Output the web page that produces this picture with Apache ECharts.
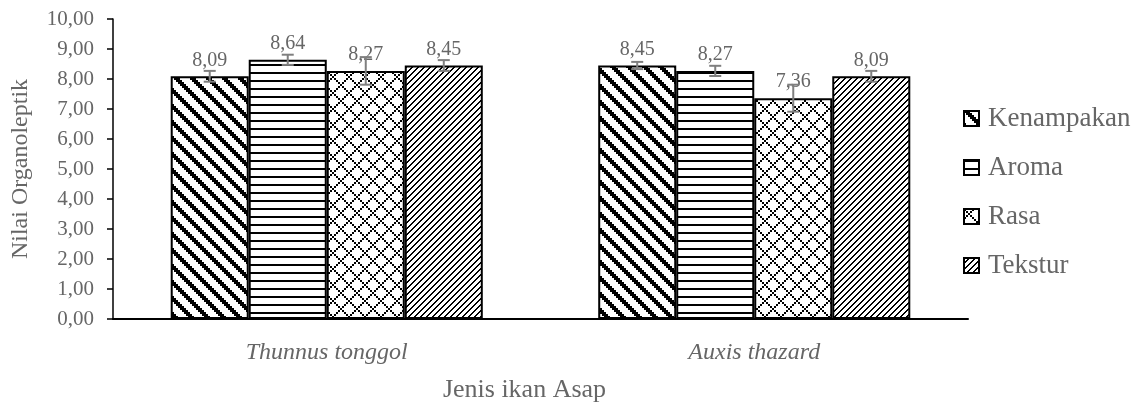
<!DOCTYPE html>
<html><head><meta charset="utf-8">
<script src="https://cdn.jsdelivr.net/npm/echarts@6/dist/echarts.min.js"></script>
<style>html,body{margin:0;padding:0;background:#fff}#c{width:1136px;height:404px}</style>
</head><body><div id="c"></div>
<script>
// ---- data ----
const categories = ['Thunnus tonggol', 'Auxis thazard'];
const seriesNames = ['Kenampakan', 'Aroma', 'Rasa', 'Tekstur'];
const kenampakan = [8.09, 8.45];
const aroma = [8.64, 8.27];
const rasa = [8.27, 7.36];
const tekstur = [8.45, 8.09];
const errKenampakan = [0.18, 0.12];
const errAroma = [0.17, 0.17];
const errRasa = [0.46, 0.45];
const errTekstur = [0.18, 0.18];
const xTitle = 'Jenis ikan Asap';
const yTitle = 'Nilai Organoleptik';

// ---- styles ----
const FONT = '"Liberation Serif", "DejaVu Serif", serif';
const TXT = '#666666';
function bitmapPattern(rows, scale) {
  const n = rows.length, m = rows[0].length;
  const cv = document.createElement('canvas');
  cv.width = m * scale; cv.height = n * scale;
  const ctx = cv.getContext('2d');
  ctx.fillStyle = '#fff'; ctx.fillRect(0, 0, cv.width, cv.height);
  ctx.fillStyle = '#000';
  for (let r = 0; r < n; r++) for (let c = 0; c < m; c++)
    if (rows[r][c] === '1') ctx.fillRect(c * scale, r * scale, scale, scale);
  return { image: cv, repeat: 'repeat' };
}
const patterns = [
  bitmapPattern(['11100000','01110000','00111000','00011100','00001110','00000111','10000011','11000001'], 2),
  bitmapPattern(['11111111','00000000','00000000','00000000','11111111','00000000','00000000','00000000'], 2),
  bitmapPattern(['10001000','01010000','00100000','01010000','10001000','00000101','00000010','00000101'], 2),
  bitmapPattern(['000011','000110','001100','011000','110000','100001'], 1)
];

const values = [kenampakan, aroma, rasa, tekstur];
const errors = [errKenampakan, errAroma, errRasa, errTekstur];
const GAP = 0.27;
const fmt = v => v.toFixed(2).replace('.', ',');

const barSeries = seriesNames.map((name, s) => ({
  name, type: 'bar', data: values[s],
  barGap: '0%', barCategoryGap: (GAP * 100) + '%',
  itemStyle: { color: patterns[s], borderColor: '#000', borderWidth: 2 },
  label: { show: true, position: 'top', distance: 6, formatter: p => fmt(p.value),
    color: TXT, fontFamily: FONT, fontSize: 20 },
  z: 2
}));

const errData = [];
values.forEach((vals, s) => vals.forEach((v, i) => errData.push([i, v, errors[s][i], s])));
const errSeries = {
  type: 'custom', silent: true, z: 10, data: errData, encode: { x: 0, y: 1 },
  renderItem(params, api) {
    const ci = api.value(0), v = api.value(1), e = api.value(2), s = api.value(3);
    const catW = api.size([1, 0])[0];
    const barW = catW * (1 - GAP) / seriesNames.length;
    const c = api.coord([ci, v]);
    const x = c[0] - barW * seriesNames.length / 2 + barW * (s + 0.5);
    const yHi = api.coord([ci, v + e])[1], yLo = api.coord([ci, v - e])[1];
    const cap = 6, st = { stroke: '#7f7f7f', lineWidth: 2 };
    return { type: 'group', children: [
      { type: 'line', shape: { x1: x, y1: yHi, x2: x, y2: yLo }, style: st },
      { type: 'line', shape: { x1: x - cap, y1: yHi, x2: x + cap, y2: yHi }, style: st },
      { type: 'line', shape: { x1: x - cap, y1: yLo, x2: x + cap, y2: yLo }, style: st }
    ]};
  }
};

const chart = echarts.init(document.getElementById('c'), null, { renderer: 'canvas' });
chart.setOption({
  animation: false,
  backgroundColor: '#fff',
  textStyle: { fontFamily: FONT },
  grid: { left: 113, right: 168, top: 19, bottom: 85, containLabel: false, outerBoundsMode: 'none' },
  legend: {
    data: seriesNames, orient: 'vertical', left: 958, top: 100,
    itemWidth: 15, itemHeight: 15, itemGap: 22, icon: 'rect',
    textStyle: { color: TXT, fontFamily: FONT, fontSize: 27, padding: [0, 0, 0, 4] }
  },
  xAxis: {
    type: 'category', data: categories,
    axisLine: { lineStyle: { color: '#000', width: 2 } },
    axisTick: { show: false },
    axisLabel: { color: TXT, fontFamily: FONT, fontSize: 24, fontStyle: 'italic', margin: 22 },
    name: xTitle, nameLocation: 'middle', nameGap: 58,
    nameTextStyle: { color: TXT, fontFamily: FONT, fontSize: 26, padding: [0, 32, 0, 0] }
  },
  yAxis: {
    type: 'value', min: 0, max: 10, interval: 1,
    axisLine: { show: true, lineStyle: { color: '#000', width: 1.5 } },
    axisTick: { show: true, length: 6, lineStyle: { color: '#000', width: 1.5 } },
    splitLine: { show: false },
    axisLabel: { color: TXT, fontFamily: FONT, fontSize: 21, margin: 19, formatter: v => fmt(v) },
    name: yTitle, nameLocation: 'middle', nameGap: 80,
    nameTextStyle: { color: TXT, fontFamily: FONT, fontSize: 24 }
  },
  series: [...barSeries, errSeries]
});
</script></body></html>
